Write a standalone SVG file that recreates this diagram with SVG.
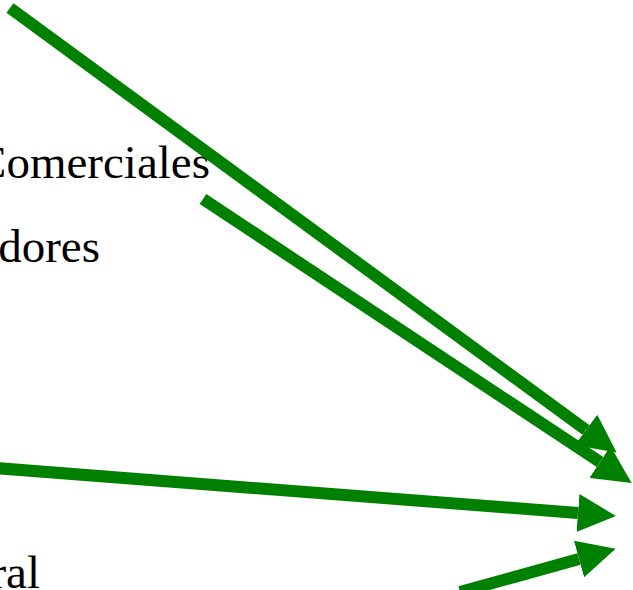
<svg xmlns="http://www.w3.org/2000/svg" width="633" height="590" viewBox="0 0 633 590">
<style>
.lbl{font-family:"Liberation Serif","Times New Roman",serif;font-size:47px;fill:#000;text-anchor:end}
.con{stroke:#008000;stroke-width:12;fill:none;marker-end:url(#ah)}
</style>
<defs>
<marker id="ah" markerUnits="userSpaceOnUse" markerWidth="38" markerHeight="38" viewBox="0 0 38 38" refX="0" refY="19" orient="auto">
<path d="M0,0 L38,19 L0,38 Z" fill="#008000"/>
</marker>
</defs>
<rect width="633" height="590" fill="#fff"/>
<g id="n1"><text class="lbl" x="210" y="178">Comerciales</text></g>
<g id="n2"><text class="lbl" x="100" y="262">dores</text></g>
<g id="n3"><text class="lbl" x="40" y="588">ral</text></g>
<g id="connectors">
<path class="con" d="M10,8 L586,430"/>
<path class="con" d="M203,199 L600,462"/>
<path class="con" d="M-5,468 L578,513"/>
<path class="con" d="M460,592 L579,559"/>
</g>
</svg>
